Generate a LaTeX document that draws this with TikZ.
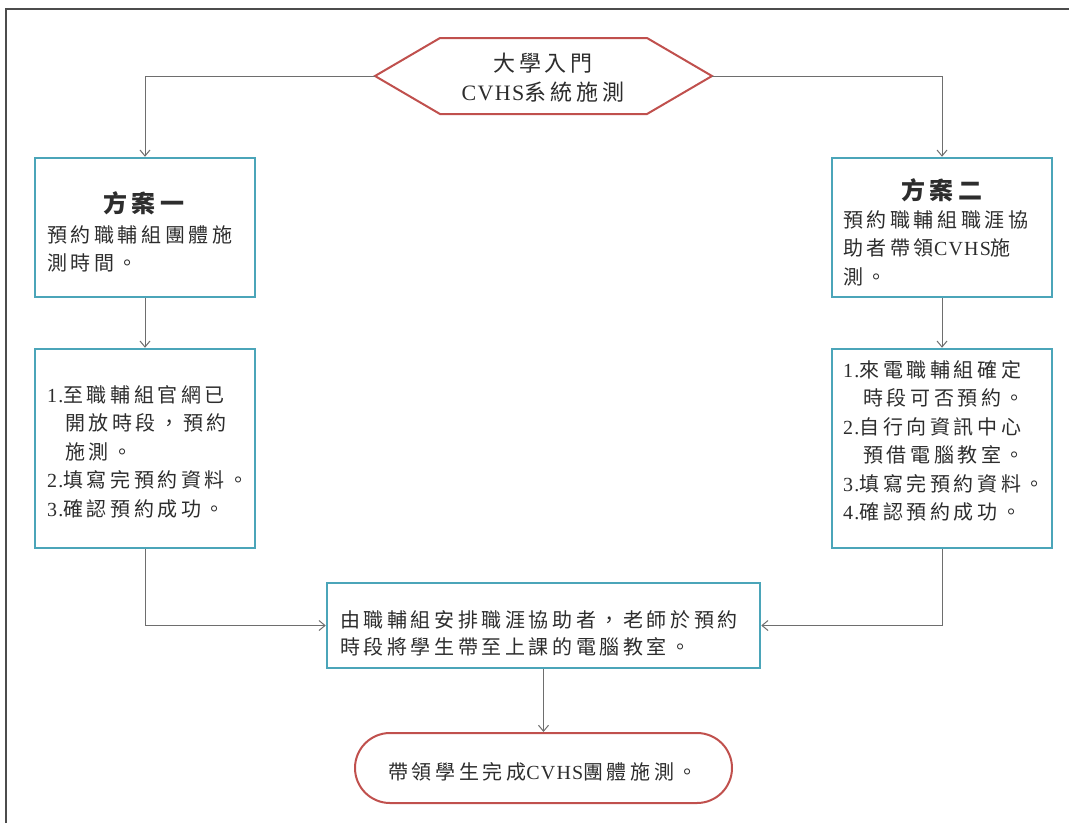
\documentclass[tikz,border=0pt]{standalone}
\usepackage{fontspec}
\setmainfont{Noto Sans CJK TC}[LetterSpace=18]
\newfontfamily\latf{Liberation Serif}[LetterSpace=6]
\newcommand\lt[1]{{\latf #1}}
\usetikzlibrary{arrows.meta}
\definecolor{boxc}{RGB}{75,165,185}
\definecolor{redc}{RGB}{192,80,77}
\definecolor{linec}{RGB}{110,110,110}
\definecolor{txtc}{RGB}{45,45,45}
\tikzset{
  boxn/.style={draw=boxc, line width=2.5pt, inner sep=0pt, minimum width=220pt},
  conn/.style={draw=linec, line width=1pt, -{Straight Barb[length=6pt,width=10pt,line width=1pt]}},
  plain/.style={draw=linec, line width=1pt},
  txt/.style={inner sep=0pt, text=txtc, align=left, anchor=north west, font=\fontsize{20}{28.5}\selectfont},
  head/.style={inner sep=0pt, text=txtc, font=\fontsize{24}{28}\selectfont\bfseries},
}
\begin{document}
\begin{tikzpicture}[x=1pt,y=-1pt]
\useasboundingbox (0,0) rectangle (1069,823);
% frame (top and left only)
\draw[line width=2pt, draw=black!70] (6,823) -- (6,9) -- (1069,9);

% hexagon start
\coordinate (hexL) at (375,76);
\coordinate (hexR) at (712,76);
\draw[draw=redc, line width=2pt, fill=white] (hexL) -- (440,38) -- (647,38) -- (hexR) -- (647,114) -- (440,114) -- cycle;
\node[inner sep=0pt, text=txtc, align=center, font=\fontsize{22}{29}\selectfont] (hextxt) at (543,78) {大學入門\\\lt{CVHS}系統施測};

% boxes
\node[boxn, minimum height=139pt] (b1) at (145,227.5) {};
\node[boxn, minimum height=139pt] (b2) at (942,227.5) {};
\node[boxn, minimum height=199pt] (b3) at (145,448.5) {};
\node[boxn, minimum height=199pt] (b4) at (942,448.5) {};
\node[draw=boxc, line width=2.5pt, inner sep=0pt, minimum width=433pt, minimum height=85pt] (mid) at (543.5,625.5) {};
\node[draw=redc, line width=2pt, inner sep=0pt, minimum width=377pt, minimum height=70pt, rounded corners=35pt] (fin) at (543.5,768) {};

% texts
\node[head] (h1) at (144,203) {方案一};
\node[txt] (t1) at (47,225) {預約職輔組團體施\\測時間。};
\node[head] (h2) at (942,190) {方案二};
\node[txt] (t2) at (843,210) {預約職輔組職涯協\\助者帶領\lt{CVHS}施\\測。};
\node[txt] (t3) at (47,385) {\lt{1.}至職輔組官網已\\\hspace*{18pt}開放時段，預約\\\hspace*{18pt}施測。\\\lt{2.}填寫完預約資料。\\\lt{3.}確認預約成功。};
\node[txt] (t4) at (843,360) {\lt{1.}來電職輔組確定\\\hspace*{20pt}時段可否預約。\\\lt{2.}自行向資訊中心\\\hspace*{20pt}預借電腦教室。\\\lt{3.}填寫完預約資料。\\\lt{4.}確認預約成功。};
\node[txt, font=\fontsize{20}{27}\selectfont] (t5) at (340,610) {由職輔組安排職涯協助者，老師於預約\\時段將學生帶至上課的電腦教室。};
\node[inner sep=0pt, text=txtc, font=\fontsize{20}{28}\selectfont] (t6) at (543,772) {帶領學生完成\lt{CVHS}團體施測。};

% connectors
\draw[conn] (hexL) -| (b1.north);
\draw[conn] (hexR) -| (b2.north);
\draw[conn] (b1.south) -- (b3.north);
\draw[conn] (b2.south) -- (b4.north);
\draw[conn] (b3.south) |- (mid.west);
\draw[conn] (b4.south) |- (mid.east);
\draw[conn] (mid.south) -- (fin.north);
\end{tikzpicture}
\end{document}
